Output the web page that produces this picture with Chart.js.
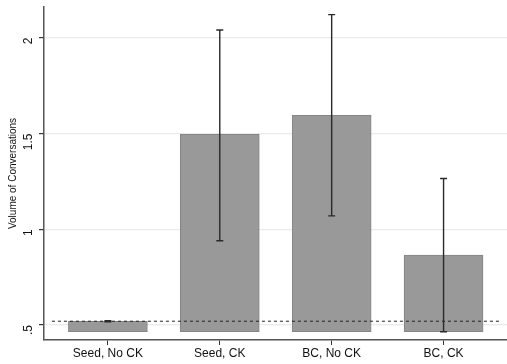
<!DOCTYPE html>
<html><head><meta charset="utf-8">
<script src="https://cdn.jsdelivr.net/npm/chart.js@4/dist/chart.umd.min.js"></script>
<style>html,body{margin:0;padding:0;background:#fff}#w{width:507px;height:364px}</style>
</head><body><div id="w"><canvas id="c"></canvas></div>
<script>
const categories = ['Seed, No CK', 'Seed, CK', 'BC, No CK', 'BC, CK'];
const positions = [1, 2, 3, 4];
const means = [0.52, 1.495, 1.595, 0.865];
const ciLow = [0.517, 0.94, 1.07, 0.465];
const ciHigh = [0.523, 2.04, 2.12, 1.265];
const barBase = 0.465;
const referenceLine = 0.52;
const yTicks = [0.5, 1, 1.5, 2];
const yTickLabels = ['.5', '1', '1.5', '2'];

const errorBars = {
  id: 'errorBars',
  afterDatasetsDraw(chart) {
    const ctx = chart.ctx, xs = chart.scales.x, ys = chart.scales.y;
    ctx.save();
    ctx.strokeStyle = '#2a2a2a';
    ctx.lineWidth = 1.4;
    positions.forEach((p, i) => {
      const x = xs.getPixelForValue(p);
      const yl = ys.getPixelForValue(ciLow[i]);
      const yh = ys.getPixelForValue(ciHigh[i]);
      ctx.beginPath();
      ctx.moveTo(x, yl); ctx.lineTo(x, yh);
      ctx.moveTo(x - 3.5, yl); ctx.lineTo(x + 3.5, yl);
      ctx.moveTo(x - 3.5, yh); ctx.lineTo(x + 3.5, yh);
      ctx.stroke();
    });
    ctx.restore();
  }
};

new Chart(document.getElementById('c'), {
  type: 'bar',
  data: {
    datasets: [
      {
        type: 'line',
        data: [{x: 0.5, y: referenceLine}, {x: 4.5, y: referenceLine}],
        borderColor: '#222',
        borderWidth: 1,
        borderDash: [3, 3],
        pointRadius: 0,
        order: 0
      },
      {
        data: positions.map((p, i) => ({x: p, y: [barBase, means[i]]})),
        backgroundColor: '#999999',
        borderColor: '#858585',
        borderWidth: 1,
        borderSkipped: false,
        barThickness: 79,
        order: 1
      }
    ]
  },
  options: {
    responsive: true,
    maintainAspectRatio: false,
    animation: false,
    layout: {padding: {top: 7, right: 0, left: 0, bottom: 0}},
    plugins: {legend: {display: false}, tooltip: {enabled: false}},
    scales: {
      x: {
        type: 'linear',
        offset: false,
        min: 0.429,
        max: 4.567,
        afterBuildTicks(s) { s.ticks = positions.map(v => ({value: v})); },
        afterFit(s) { s.height = 24; s.paddingLeft = 0; s.paddingRight = 0; },
        ticks: {
          callback: (v) => categories[positions.indexOf(v)] || '',
          color: '#111',
          font: {family: 'Liberation Sans', size: 12},
          padding: 1,
          maxRotation: 0,
          minRotation: 0
        },
        grid: {offset: false, drawOnChartArea: false, tickLength: 5, tickColor: '#333', lineWidth: 1},
        border: {color: '#555', width: 1.5}
      },
      y: {
        type: 'linear',
        min: 0.422,
        max: 2.16,
        afterBuildTicks(s) { s.ticks = yTicks.map(v => ({value: v})); },
        afterFit(s) { s.width = 44; s.paddingTop = 0; s.paddingBottom = 0; },
        ticks: {
          callback: (v) => yTickLabels[yTicks.indexOf(v)],
          color: '#111',
          font: {family: 'Liberation Sans', size: 12},
          minRotation: 90,
          maxRotation: 90,
          padding: 10
        },
        grid: {color: '#eaeaea', lineWidth: 1.2, tickLength: 5, tickColor: '#333'},
        border: {color: '#555', width: 1.5},
        title: {
          display: true,
          text: 'Volume of Conversations',
          font: {family: 'Liberation Sans', size: 10},
          color: '#111',
          padding: {top: 7, bottom: 0}
        }
      }
    }
  },
  plugins: [errorBars]
});
</script>
</body></html>
